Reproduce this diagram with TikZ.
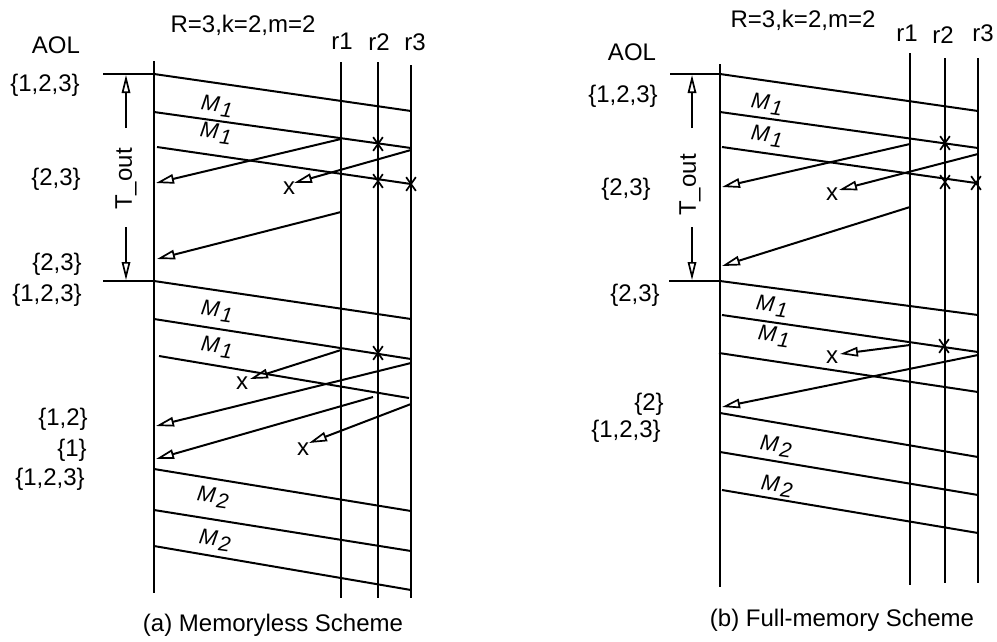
\documentclass[tikz,border=0pt]{standalone}
\usepackage{fontspec}
\setmainfont{Liberation Sans}
\usetikzlibrary{arrows.meta,shapes.misc}
\newcommand{\Mlab}[1]{\textit{M}\kern2pt\raisebox{-4pt}{\fontsize{21}{21}\selectfont\itshape #1}}
\begin{document}
\begin{tikzpicture}[x=1pt,y=-1pt,line width=2pt,
  lbl/.style={font=\fontsize{24}{28}\selectfont,inner sep=0pt,anchor=base},
  xlbl/.style={font=\fontsize{24}{28}\selectfont,inner sep=0pt,anchor=center},
  mlab/.style={font=\fontsize{22}{26}\selectfont,inner sep=0pt,anchor=center,rotate=-8},
  ack/.style={-{Triangle[open,length=18pt,width=9.5pt,line width=1.7pt]}},
  tout/.style={-{Triangle[open,length=18pt,width=8.5pt,line width=1.7pt]}},
  xmark/.style={cross out,draw,minimum width=8pt,minimum height=12pt,inner sep=0pt,line width=1.7pt}]
\useasboundingbox (0,0) rectangle (997,641);

% ================= LEFT PANEL (a) =================
\node[lbl] (aolL) at (56,53) {AOL};
\node[lbl] (parL) at (243,32) {R=3,k=2,m=2};
\node[lbl] (r1Lt) at (342,49) {r1};
\node[lbl] (r2Lt) at (379,50) {r2};
\node[lbl] (r3Lt) at (415,50) {r3};
\node[lbl] (sL1) at (45,91) {\{1,2,3\}};
\node[lbl] (sL2) at (56,185) {\{2,3\}};
\node[lbl] (sL3) at (57,270) {\{2,3\}};
\node[lbl] (sL4) at (47,301) {\{1,2,3\}};
\node[lbl] (sL5) at (63,425) {\{1,2\}};
\node[lbl] (sL6) at (72,456) {\{1\}};
\node[lbl] (sL7) at (50,485) {\{1,2,3\}};
\node[lbl] (capL) at (273,631) {(a) Memoryless Scheme};

% lifelines
\coordinate (aLt) at (154,61);  \coordinate (aLb) at (154,593);
\coordinate (p1Lt) at (341,62); \coordinate (p1Lb) at (341,598);
\coordinate (p2Lt) at (378,62); \coordinate (p2Lb) at (378,598);
\coordinate (p3Lt) at (411,65); \coordinate (p3Lb) at (411,598);
\draw (aLt) -- (aLb);
\draw (p1Lt) -- (p1Lb);
\draw (p2Lt) -- (p2Lb);
\draw (p3Lt) -- (p3Lb);

% timeout bars
\coordinate (hL1a) at (103,74);  \coordinate (hL1b) at (154,74);
\coordinate (hL2a) at (103,281); \coordinate (hL2b) at (154,281);
\draw (hL1a) -- (hL1b);
\draw (hL2a) -- (hL2b);
\coordinate (tL1) at (126,128); \coordinate (tL1e) at (126,75);
\coordinate (tL2) at (126,227); \coordinate (tL2e) at (126,280);
\draw[tout] (tL1) -- (tL1e);
\draw[tout] (tL2) -- (tL2e);
\node[font=\fontsize{24}{28}\selectfont,inner sep=0pt,rotate=90] (toutL) at (126,179) {T\_out};

% messages round 1
\coordinate (mL1s) at (154,74);  \coordinate (mL1e) at (411,111);
\coordinate (mL2s) at (154,112); \coordinate (mL2e) at (411,148);
\coordinate (mL3s) at (157,147); \coordinate (mL3e) at (411,184);
\draw (mL1s) -- (mL1e);
\draw (mL2s) -- (mL2e);
\draw (mL3s) -- (mL3e);
\node[mlab] (lM1a) at (217,106) {\Mlab{1}};
\node[mlab] (lM1b) at (216,133) {\Mlab{1}};
\node[xmark] (xL1) at (378,144) {};
\node[xmark] (xL2) at (378,181) {};
\node[xmark] (xL3) at (411,184) {};

% acks round 1
\coordinate (kL1s) at (341,139); \coordinate (kL1e) at (156,183);
\coordinate (kL2s) at (411,150); \coordinate (kL2e) at (294,183);
\coordinate (kL3s) at (341,212); \coordinate (kL3e) at (157,259);
\draw[ack] (kL1s) -- (kL1e);
\draw[ack] (kL2s) -- (kL2e);
\draw[ack] (kL3s) -- (kL3e);
\node[xlbl] (lxL1) at (289,188) {x};

% messages round 2
\coordinate (mL4s) at (154,281); \coordinate (mL4e) at (411,319);
\coordinate (mL5s) at (154,319); \coordinate (mL5e) at (411,359);
\coordinate (mL6s) at (159,356); \coordinate (mL6e) at (409,398);
\draw (mL4s) -- (mL4e);
\draw (mL5s) -- (mL5e);
\draw (mL6s) -- (mL6e);
\node[mlab] (lM1c) at (217,311) {\Mlab{1}};
\node[mlab] (lM1d) at (217,347) {\Mlab{1}};
\node[xmark] (xL4) at (378,353) {};

% acks round 2
\coordinate (kL4s) at (341,350); \coordinate (kL4e) at (250,379);
\coordinate (kL5s) at (411,363); \coordinate (kL5e) at (156,426);
\coordinate (kL6s) at (373,397); \coordinate (kL6e) at (156,459);
\coordinate (kL7s) at (411,404); \coordinate (kL7e) at (309,443);
\draw[ack] (kL4s) -- (kL4e);
\draw[ack] (kL5s) -- (kL5e);
\draw[ack] (kL6s) -- (kL6e);
\draw[ack] (kL7s) -- (kL7e);
\node[xlbl] (lxL2) at (242,383) {x};
\node[xlbl] (lxL3) at (303,449) {x};

% messages round 3
\coordinate (mL7s) at (154,469); \coordinate (mL7e) at (411,511);
\coordinate (mL8s) at (154,510); \coordinate (mL8e) at (411,551);
\coordinate (mL9s) at (154,546); \coordinate (mL9e) at (411,590);
\draw (mL7s) -- (mL7e);
\draw (mL8s) -- (mL8e);
\draw (mL9s) -- (mL9e);
\node[mlab] (lM2a) at (213,497) {\Mlab{2}};
\node[mlab] (lM2b) at (215,540) {\Mlab{2}};

% ================= RIGHT PANEL (b) =================
\node[lbl] (aolR) at (632,60) {AOL};
\node[lbl] (parR) at (803,27) {R=3,k=2,m=2};
\node[lbl] (r1Rt) at (907,41) {r1};
\node[lbl] (r2Rt) at (943,43) {r2};
\node[lbl] (r3Rt) at (983,41) {r3};
\node[lbl] (sR1) at (623,102) {\{1,2,3\}};
\node[lbl] (sR2) at (626,195) {\{2,3\}};
\node[lbl] (sR3) at (635,301) {\{2,3\}};
\node[lbl] (sR4) at (649,410) {\{2\}};
\node[lbl] (sR5) at (626,437) {\{1,2,3\}};
\node[lbl] (capR) at (842,626) {(b) Full-memory Scheme};

% lifelines
\coordinate (aRt) at (720,64);  \coordinate (aRb) at (720,587);
\coordinate (p1Rt) at (910,53); \coordinate (p1Rb) at (910,585);
\coordinate (p2Rt) at (945,58); \coordinate (p2Rb) at (945,583);
\coordinate (p3Rt) at (978,58); \coordinate (p3Rb) at (978,583);
\draw (aRt) -- (aRb);
\draw (p1Rt) -- (p1Rb);
\draw (p2Rt) -- (p2Rb);
\draw (p3Rt) -- (p3Rb);

% timeout bars
\coordinate (hR1a) at (670,74);  \coordinate (hR1b) at (720,74);
\coordinate (hR2a) at (669,281); \coordinate (hR2b) at (720,281);
\draw (hR1a) -- (hR1b);
\draw (hR2a) -- (hR2b);
\coordinate (tR1) at (692,128); \coordinate (tR1e) at (692,75);
\coordinate (tR2) at (692,227); \coordinate (tR2e) at (692,280);
\draw[tout] (tR1) -- (tR1e);
\draw[tout] (tR2) -- (tR2e);
\node[font=\fontsize{24}{28}\selectfont,inner sep=0pt,rotate=90] (toutR) at (690,185) {T\_out};

% messages round 1
\coordinate (mR1s) at (720,74);  \coordinate (mR1e) at (978,111);
\coordinate (mR2s) at (720,112); \coordinate (mR2e) at (978,148);
\coordinate (mR3s) at (722,147); \coordinate (mR3e) at (976,183);
\draw (mR1s) -- (mR1e);
\draw (mR2s) -- (mR2e);
\draw (mR3s) -- (mR3e);
\node[mlab] (rM1a) at (767,104) {\Mlab{1}};
\node[mlab] (rM1b) at (767,136) {\Mlab{1}};
\node[xmark] (xR1) at (945,143) {};
\node[xmark] (xR2) at (945,182) {};
\node[xmark] (xR3) at (976,183) {};

% acks round 1
\coordinate (kR1s) at (910,144); \coordinate (kR1e) at (722,187);
\coordinate (kR2s) at (978,154); \coordinate (kR2e) at (839,190);
\coordinate (kR3s) at (910,207); \coordinate (kR3e) at (722,266);
\draw[ack] (kR1s) -- (kR1e);
\draw[ack] (kR2s) -- (kR2e);
\draw[ack] (kR3s) -- (kR3e);
\node[xlbl] (rxR1) at (832,194) {x};

% messages round 2
\coordinate (mR4s) at (720,281); \coordinate (mR4e) at (978,315);
\coordinate (mR5s) at (722,315); \coordinate (mR5e) at (978,352);
\coordinate (mR6s) at (719,353); \coordinate (mR6e) at (978,392);
\draw (mR4s) -- (mR4e);
\draw (mR5s) -- (mR5e);
\draw (mR6s) -- (mR6e);
\node[mlab] (rM1c) at (772,306) {\Mlab{1}};
\node[mlab] (rM1d) at (774,336) {\Mlab{1}};
\node[xmark] (xR4) at (944,346) {};

% acks round 2
\coordinate (kR4s) at (910,345); \coordinate (kR4e) at (840,354);
\coordinate (kR5s) at (978,355); \coordinate (kR5e) at (722,407);
\draw[ack] (kR4s) -- (kR4e);
\draw[ack] (kR5s) -- (kR5e);
\node[xlbl] (rxR2) at (832,357) {x};

% messages round 3
\coordinate (mR7s) at (720,413); \coordinate (mR7e) at (978,457);
\coordinate (mR8s) at (720,452); \coordinate (mR8e) at (978,495);
\coordinate (mR9s) at (722,490); \coordinate (mR9e) at (978,533);
\draw (mR7s) -- (mR7e);
\draw (mR8s) -- (mR8e);
\draw (mR9s) -- (mR9e);
\node[mlab] (rM2a) at (776,446) {\Mlab{2}};
\node[mlab] (rM2b) at (777,486) {\Mlab{2}};
\end{tikzpicture}
\end{document}
